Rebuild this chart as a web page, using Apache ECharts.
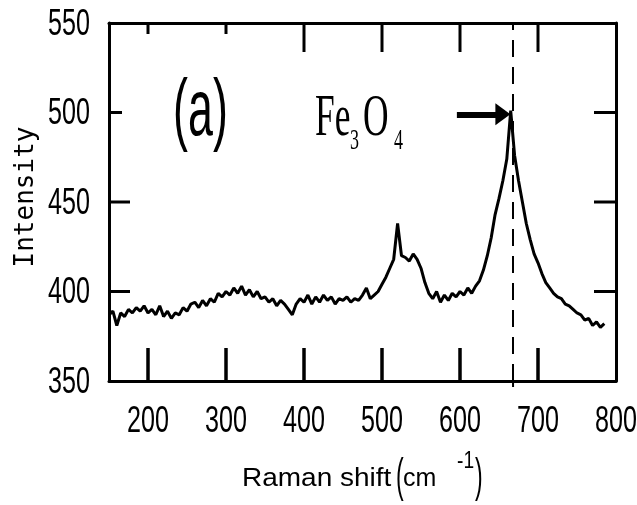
<!DOCTYPE html>
<html><head><meta charset="utf-8">
<script src="https://cdn.jsdelivr.net/npm/echarts@6/dist/echarts.min.js"></script>
<style>html,body{margin:0;padding:0;background:#fff}#c{width:637px;height:505px}</style>
</head><body><div id="c"></div>
<script>
const ramanShift = [150,155,160,165,170,175,180,185,190,195,200,205,210,215,220,225,230,235,240,245,
250,255,260,265,270,275,280,285,290,295,300,305,310,315,320,325,330,335,340,345,
350,355,360,365,370,375,380,385,390,395,400,405,410,415,420,425,430,435,440,445,
450,455,460,465,470,475,480,485,490,495,500,505,510,515,520,525,530,535,540,545,
550,555,560,565,570,575,580,585,590,595,600,605,610,615,620,625,630,635,640,645,
650,655,660,665,670,675,680,685,690,695,700,705,710,715,720,725,730,735,740,745,
750,755,760,765,770,775,780,785];
const intensity = [387,389,381,388,386,390,388,391,389,392,388,390,387,392,386,389,385,388,387,391,
389,393,394,391,395,392,396,394,399,397,400,398,402,399,403,398,401,397,400,396,
397,394,396,392,395,393,390,387,393,396,394,398,393,397,394,398,395,397,393,396,
395,397,394,396,395,398,402,396,398,400,404,408,413,418,438,420,419,417,421,418,
413,405,399,396,400,394,398,395,399,397,400,398,402,399,403,406,412,420,430,443,
452,462,474,501,476,462,450,438,429,421,416,410,405,402,399,397,396,393,392,390,
388,387,384,385,381,383,380,382];
const xTicks = [200,300,400,500,600,700,800];
const xBottomTicks = [200,300,400,500,600,700];
const xTopShortTicks = [200,300];
const xTopLongTicks = [400,500,600,700];
const yTicks = [350,400,450,500,550];
const yLeftLongTicks = [400,450];
const yLeftShortTicks = [500];
const yRightTicks = [400,450,500];
const peakShift = 668;
const arrowStart = [596,499];
const arrowEnd = [655,499];

const X_MIN = 150, X_MAX = 800, Y_MIN = 350, Y_MAX = 550;

// tick anchors: [x, y, kind]; drawn by a custom series through the axes' scales
const tickData = [];
xBottomTicks.forEach(v=>tickData.push([v, Y_MIN, 0]));
xTopShortTicks.forEach(v=>tickData.push([v, Y_MAX, 1]));
xTopLongTicks.forEach(v=>tickData.push([v, Y_MAX, 2]));
yLeftLongTicks.forEach(v=>tickData.push([X_MIN, v, 3]));
yLeftShortTicks.forEach(v=>tickData.push([X_MIN, v, 4]));
yRightTicks.forEach(v=>tickData.push([X_MAX, v, 5]));
const TICK_VEC = [[0,-33],[0,11],[0,29],[21,0],[13,0],[-22,0]];

function ax(pos, min, max){
  return {type:'value', position:pos, min:min, max:max,
    axisLine:{show:true, onZero:false, lineStyle:{color:'#000', width:3}},
    axisTick:{show:false}, axisLabel:{show:false}, splitLine:{show:false}};
}
const chart = echarts.init(document.getElementById('c'), null, {renderer:'canvas'});
const option = {
  animation:false,
  backgroundColor:'#fff',
  grid:{left:109, right:21, top:23, bottom:124, containLabel:false},
  xAxis:[ax('bottom', X_MIN, X_MAX), ax('top', X_MIN, X_MAX)],
  yAxis:[ax('left', Y_MIN, Y_MAX), ax('right', Y_MIN, Y_MAX)],
  series:[
    {type:'line', xAxisIndex:0, yAxisIndex:0, showSymbol:false, symbol:'none',
     data: ramanShift.map((x,i)=>[x, intensity[i]]),
     lineStyle:{color:'#000', width:3}, itemStyle:{color:'#000'}, z:3,
     markLine:{silent:true, symbol:'none', label:{show:false},
       lineStyle:{color:'#000', width:2, type:[17,10]},
       data:[{xAxis:peakShift}]}},
    {type:'line', xAxisIndex:0, yAxisIndex:0, data:[],
     markLine:{silent:true, symbol:['none','triangle'], symbolSize:[22,15], label:{show:false},
       lineStyle:{color:'#000', width:6, type:'solid'},
       data:[[{coord:arrowStart},{coord:arrowEnd}]]}},
    {type:'custom', xAxisIndex:0, yAxisIndex:0, z:6, silent:true, clip:false,
     data:tickData,
     renderItem:function(params, api){
       const p = api.coord([api.value(0), api.value(1)]);
       const d = TICK_VEC[api.value(2)];
       return {type:'line', shape:{x1:p[0], y1:p[1], x2:p[0]+d[0], y2:p[1]+d[1]},
         style:{stroke:'#000', lineWidth:3}};
     }}
  ]
};
chart.setOption(option);

const px = v => chart.convertToPixel({xAxisIndex:0}, v);
const py = v => chart.convertToPixel({yAxisIndex:0}, v);
const bottomY = py(Y_MIN), leftX = px(X_MIN);
const g = [];
// dashed marker extends a little below the frame
g.push({type:'line', z:10, silent:true, shape:{x1:px(peakShift), y1:bottomY, x2:px(peakShift), y2:bottomY+6}, style:{stroke:'#000', lineWidth:2}});
// bottom ticks also as graphic (known-good path)
xBottomTicks.forEach(v=>g.push({type:'line', z:10, silent:true,
  shape:{x1:px(v), y1:bottomY, x2:px(v), y2:bottomY-33}, style:{stroke:'#000', lineWidth:3}}));

const tickFontFamily = '"Liberation Sans", Arial, sans-serif';
xTicks.forEach(v=>{
  g.push({type:'text', x:px(v), y:bottomY+40.5, scaleX:0.68,
    style:{text:String(v), align:'center', verticalAlign:'middle', fontFamily:tickFontFamily, fontSize:37, fill:'#000'}});
});
yTicks.forEach(v=>{
  g.push({type:'text', x:leftX-19, y:py(v)+1.5, scaleX:0.68,
    style:{text:String(v), align:'right', verticalAlign:'middle', fontFamily:tickFontFamily, fontSize:37, fill:'#000'}});
});
// annotations
g.push({type:'text', x:200.5, y:112.5, scaleX:0.56,
  style:{text:'(a)', fontFamily:'"Liberation Sans", Arial, sans-serif', fontSize:80, fill:'#000', align:'center', verticalAlign:'middle'}});
const serif = '"Liberation Serif", "Times New Roman", serif';
g.push({type:'text', x:315, y:119, scaleX:0.6, style:{text:'Fe', fontFamily:serif, fontSize:59, fill:'#000', align:'left', verticalAlign:'middle'}});
g.push({type:'text', x:350, y:141, scaleX:0.6, style:{text:'3', fontFamily:serif, fontSize:30, fill:'#000', align:'left', verticalAlign:'middle'}});
g.push({type:'text', x:363, y:119, scaleX:0.6, style:{text:'O', fontFamily:serif, fontSize:59, fill:'#000', align:'left', verticalAlign:'middle'}});
g.push({type:'text', x:394, y:141, scaleX:0.6, style:{text:'4', fontFamily:serif, fontSize:30, fill:'#000', align:'left', verticalAlign:'middle'}});
// axis titles
const sans = '"Liberation Sans", Arial, sans-serif';
g.push({type:'text', x:26, y:197, rotation:Math.PI/2,
  style:{text:'Intensity', fontFamily:'"DejaVu Sans Mono", monospace', fontSize:26, fill:'#000', align:'center', verticalAlign:'middle'}});
g.push({type:'text', x:242, y:479, scaleX:1.12, style:{text:'Raman shift', fontFamily:sans, fontSize:25, fill:'#000', align:'left', verticalAlign:'middle'}});
g.push({type:'text', x:396, y:478, scaleX:0.5, style:{text:'(', fontFamily:sans, fontSize:46, fill:'#000', align:'left', verticalAlign:'middle'}});
g.push({type:'text', x:403, y:479, style:{text:'cm', fontFamily:sans, fontSize:25, fill:'#000', align:'left', verticalAlign:'middle'}});
g.push({type:'text', x:457, y:461.5, scaleX:0.8, style:{text:'-1', fontFamily:sans, fontSize:24, fill:'#000', align:'left', verticalAlign:'middle'}});
g.push({type:'text', x:475, y:478, scaleX:0.5, style:{text:')', fontFamily:sans, fontSize:46, fill:'#000', align:'left', verticalAlign:'middle'}});
chart.setOption({graphic:{elements:g}});
</script>
</body></html>
